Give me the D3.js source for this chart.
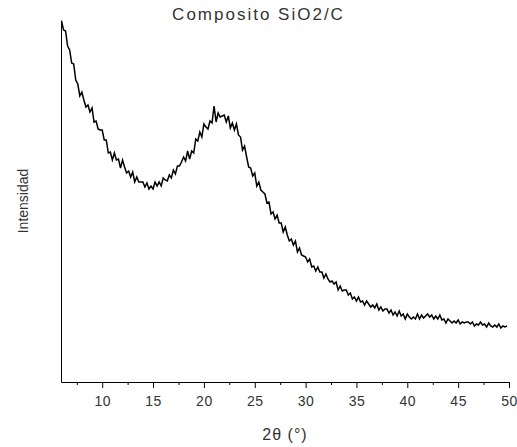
<!DOCTYPE html>
<html>
<head>
<meta charset="utf-8">
<script src="https://cdn.jsdelivr.net/npm/d3@7/dist/d3.min.js"></script>
<style>
    body { margin: 0; background: #fff; }
    svg text { font-family: "Liberation Sans", Arial, sans-serif; fill: #333; }
    .line { fill: none; stroke: #000; stroke-width: 1.5; stroke-linejoin: miter; }
    .axis path, .axis line { stroke: #000; }
</style>
</head>
<body>
<div id="chart"></div>
<script>
// scan settings (2theta start and step, degrees)
const scanStart = 6.0;
const scanStep = 0.2;

// intensity, arbitrary units, one value per step
const intensity = [
    361, 352, 351, 336, 332, 319, 318, 302, 298, 286,
    290, 282, 275, 277, 270, 274, 260, 261, 253, 252,
    252, 242, 242, 229, 230, 222, 229, 222, 223, 214,
    222, 215, 209, 211, 205, 210, 200, 205, 200, 200,
    200, 195, 199, 193, 196, 193, 200, 196, 200, 196,
    204, 202, 201, 207, 204, 212, 208, 216, 216, 220,
    225, 221, 231, 223, 231, 229, 243, 241, 250, 245,
    258, 255, 253, 261, 259, 276, 260, 269, 265, 266,
    267, 260, 266, 254, 259, 252, 258, 247, 245, 232,
    236, 225, 215, 214, 206, 209, 196, 200, 192, 190,
    188, 179, 180, 168, 170, 163, 167, 159, 159, 150,
    155, 147, 141, 143, 137, 141, 130, 134, 127, 126,
    125, 120, 123, 115, 116, 111, 115, 110, 110, 104,
    108, 103, 100, 101, 98, 100, 92, 96, 91, 92,
    92, 87, 89, 83, 85, 81, 85, 80, 81, 77,
    81, 78, 75, 77, 74, 78, 72, 75, 71, 73,
    73, 69, 72, 67, 70, 66, 71, 66, 68, 63,
    68, 65, 63, 65, 63, 68, 63, 67, 64, 66,
    68, 65, 67, 63, 66, 63, 67, 62, 63, 59,
    63, 61, 59, 61, 59, 62, 58, 60, 59, 60,
    60, 58, 60, 56, 58, 57, 60, 57, 58, 55,
    59, 56, 55, 57, 55, 58, 54, 56, 55, 56
];

const majorTicks = [10, 15, 20, 25, 30, 35, 40, 45, 50];
const minorTicks = [7.5, 12.5, 17.5, 22.5, 27.5, 32.5, 37.5, 42.5, 47.5];

const title = "Composito SiO2/C";
const xTitle = "2θ (°)";
const yTitle = "Intensidad";

var width = 517, height = 447;
var margin = { top: 20, right: 8, bottom: 65, left: 61 };

var data = intensity.map(function (v, i) {
    return { x: scanStart + i * scanStep, y: v };
});

var svg = d3.select("#chart")
    .append("svg")
    .attr("width", width)
    .attr("height", height);

var x = d3.scaleLinear()
    .domain([5.95, 50])
    .range([margin.left, width - margin.right]);

var y = d3.scaleLinear()
    .domain([0, 362])
    .range([height - margin.bottom, margin.top]);

// minor ticks first, then the major axis on top
svg.append("g")
    .attr("class", "axis")
    .attr("transform", "translate(0," + (height - margin.bottom) + ")")
    .call(d3.axisBottom(x).tickValues(minorTicks).tickSize(3).tickFormat(""))
    .select(".domain").remove();

svg.append("g")
    .attr("class", "axis")
    .attr("transform", "translate(0," + (height - margin.bottom) + ")")
    .call(d3.axisBottom(x).tickValues(majorTicks).tickSize(6).tickSizeOuter(0).tickPadding(8))
    .selectAll("text")
    .style("font-size", "14px")
    .style("letter-spacing", "0.5px");

svg.append("g")
    .attr("class", "axis")
    .attr("transform", "translate(" + margin.left + ",0)")
    .call(d3.axisLeft(y).tickValues([]).tickSizeOuter(0));

var line = d3.line()
    .x(function (d) { return x(d.x); })
    .y(function (d) { return y(d.y); });

svg.append("path")
    .datum(data)
    .attr("class", "line")
    .attr("d", line);

svg.append("text")
    .attr("x", width / 2)
    .attr("y", 20)
    .attr("text-anchor", "middle")
    .style("font-size", "17px")
    .style("letter-spacing", "2px")
    .text(title);

svg.append("text")
    .attr("x", (margin.left + width - margin.right) / 2)
    .attr("y", 440)
    .attr("text-anchor", "middle")
    .style("font-size", "16px")
    .style("letter-spacing", "1px")
    .text(xTitle);

svg.append("text")
    .attr("transform", "translate(28," + ((margin.top + height - margin.bottom) / 2) + ") rotate(-90)")
    .attr("text-anchor", "middle")
    .style("font-size", "14px")
    .text(yTitle);
</script>
</body>
</html>
